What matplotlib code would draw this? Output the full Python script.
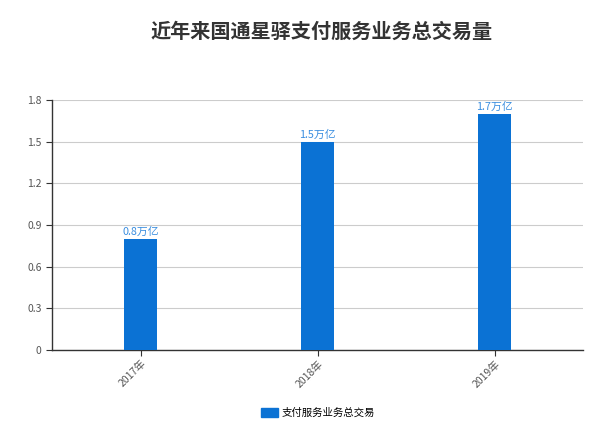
import matplotlib
matplotlib.use("Agg")
import matplotlib.pyplot as plt
from matplotlib.patches import Patch

plt.rcParams['font.family'] = ['Noto Sans CJK SC', 'DejaVu Sans']

years = ["2017年", "2018年", "2019年"]
volume = [0.8, 1.5, 1.7]
value_labels = ["0.8万亿", "1.5万亿", "1.7万亿"]
y_ticks = [0, 0.3, 0.6, 0.9, 1.2, 1.5, 1.8]
y_tick_labels = ["0", "0.3", "0.6", "0.9", "1.2", "1.5", "1.8"]
series_name = "支付服务业务总交易"
title = "近年来国通星驿支付服务业务总交易量"

BAR = "#0b72d4"
LABEL = "#3a8ee0"

fig = plt.figure(figsize=(6.08, 4.28), dpi=100)
ax = fig.add_axes([52 / 608, 1 - 350 / 428, 531 / 608, 250 / 428])

x = range(len(years))
ax.bar(x, volume, width=0.19, color=BAR, zorder=3)
for xi, v, lab in zip(x, volume, value_labels):
    ax.text(xi, v + 0.015, lab, ha="center", va="bottom", fontsize=7.8, color=LABEL)

ax.set_xlim(-0.5, 2.5)
ax.set_ylim(0, 1.8)
ax.set_yticks(y_ticks)
ax.set_yticklabels(y_tick_labels)
ax.set_xticks(list(x))
ax.set_xticklabels(years, rotation=45, ha="right", rotation_mode="anchor")
ax.tick_params(axis="both", labelsize=7.5, labelcolor="#555555", color="#333333", length=4)
ax.tick_params(axis="x", pad=2)
ax.yaxis.grid(True, color="#cccccc", linewidth=0.8, zorder=0)
for s in ("top", "right"):
    ax.spines[s].set_visible(False)
for s in ("left", "bottom"):
    ax.spines[s].set_color("#333333")
    ax.spines[s].set_linewidth(1)

fig.text(322 / 608, 1 - 31 / 428, title, ha="center", va="center",
         fontsize=14.5, fontweight="bold", color="#333333")

fig.legend(handles=[Patch(color=BAR, label=series_name)], loc="center",
           bbox_to_anchor=(318 / 608, 1 - 413 / 428), frameon=False,
           fontsize=7.5, handlelength=1.6, handleheight=0.9, handletextpad=0.4)

fig.savefig("out.png", dpi=100)
